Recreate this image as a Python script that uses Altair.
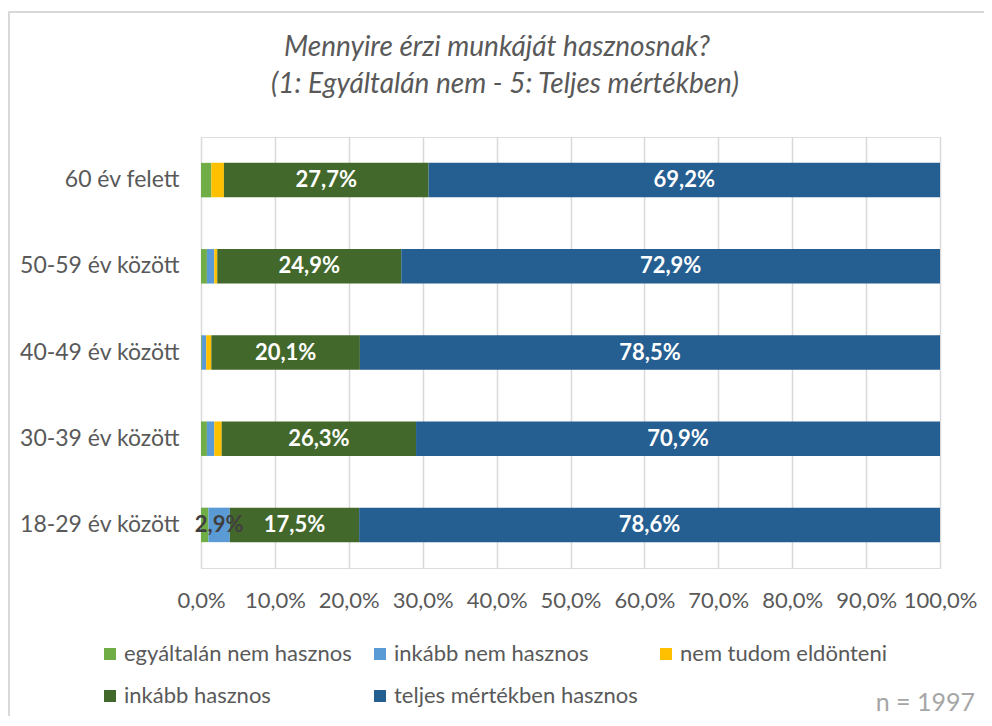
import altair as alt
import pandas as pd

categories = ["60 év felett", "50-59 év között", "40-49 év között", "30-39 év között", "18-29 év között"]
series = ["egyáltalán nem hasznos", "inkább nem hasznos", "nem tudom eldönteni", "inkább hasznos", "teljes mértékben hasznos"]
colors = ["#70ad47", "#5b9bd5", "#ffc000", "#43682b", "#255e91"]

egyaltalan = [1.4, 0.8, 0.1, 0.8, 1.0]
inkabb_nem = [0.0, 1.0, 0.6, 1.0, 2.9]
nem_tudom = [1.7, 0.4, 0.7, 1.0, 0.0]
inkabb = [27.7, 24.9, 20.1, 26.3, 17.5]
teljes = [69.2, 72.9, 78.5, 70.9, 78.6]

x_ticks = [0, 10, 20, 30, 40, 50, 60, 70, 80, 90, 100]

title_lines = ["Mennyire érzi munkáját hasznosnak?", "(1: Egyáltalán nem - 5: Teljes mértékben)"]
note = "n = 1997"

FONT = "Lato, 'Open Sans', sans-serif"
GRAY = "#595959"

rows = []
for s_i, (name, vals) in enumerate(zip(series, [egyaltalan, inkabb_nem, nem_tudom, inkabb, teljes])):
    for c, v in zip(categories, vals):
        label = (f"{v:.1f}%".replace(".", ",")) if v >= 2.5 else ""
        rows.append({"cat": c, "series": name, "ord": s_i, "value": v, "label": label,
                     "dark": 1 if s_i >= 3 else 0})
df = pd.DataFrame(rows)

W, H = 739, 431

y_enc = alt.Y("cat:N", sort=categories, title=None,
              scale=alt.Scale(paddingInner=0.6, paddingOuter=0.3),
              axis=alt.Axis(labelFont=FONT, labelFontSize=23, labelColor=GRAY,
                            labelPadding=22, ticks=False, domain=False, grid=False))

x_enc = alt.X("value:Q", stack="zero", title=None,
              scale=alt.Scale(domain=[0, 100], nice=False),
              axis=alt.Axis(values=x_ticks, labelExpr="replace(format(datum.value/100, '.1%'), '.', ',')",
                            labelFont=FONT, labelFontSize=22, labelColor=GRAY, labelPadding=22,
                            labelOverlap=False, labelFlush=False,
                            ticks=False, domain=False, grid=True, gridColor="#d9d9d9", gridWidth=1.5))

bars = alt.Chart(df).mark_bar().encode(
    y=y_enc,
    x=x_enc,
    color=alt.Color("series:N", scale=alt.Scale(domain=series, range=colors),
                    legend=alt.Legend(title=None, orient="none", legendX=-102, legendY=506,
                                      columns=3, direction="horizontal",
                                      symbolType="square", symbolSize=144, symbolStrokeWidth=0,
                                      labelFont=FONT, labelFontSize=22, labelColor=GRAY,
                                      labelOffset=3, columnPadding=17, rowPadding=20, labelLimit=400)),
    order=alt.Order("ord:Q"),
)

labels = alt.Chart(df).transform_stack(
    stack="value", groupby=["cat"], as_=["v0", "v1"], sort=[alt.SortField("ord")]
).transform_calculate(
    mid="(datum.v0 + datum.v1) / 2"
).mark_text(font=FONT, fontSize=22, fontWeight="bold").encode(
    y=alt.Y("cat:N", sort=categories),
    x=alt.X("mid:Q"),
    text="label:N",
    color=alt.condition("datum.dark == 1", alt.value("white"), alt.value("#404040")),
)

one = pd.DataFrame({"a": [0]})
border = alt.Chart(one).mark_rect(fill=None, stroke="#d9d9d9", strokeWidth=2).encode(
    x=alt.value(-192), x2=alt.value(W + 60), y=alt.value(-125), y2=alt.value(H + 200)
)
title1 = alt.Chart(one).mark_text(font=FONT, fontSize=28, fontStyle="italic", color=GRAY,
                                  align="center", baseline="middle").encode(
    x=alt.value(296), y=alt.value(-89), text=alt.value(title_lines[0])
)
title2 = alt.Chart(one).mark_text(font=FONT, fontSize=28, fontStyle="italic", color=GRAY,
                                  align="center", baseline="middle").encode(
    x=alt.value(304), y=alt.value(-52), text=alt.value(title_lines[1])
)
ntext = alt.Chart(one).mark_text(font=FONT, fontSize=25, color="#a6a6a6", align="right",
                                 baseline="middle").encode(
    x=alt.value(774), y=alt.value(566), text=alt.value(note)
)

chart = alt.layer(border, title1, title2, bars, labels, ntext).properties(
    width=W, height=H,
    autosize=alt.AutoSizeParams(type="none"),
    padding={"left": 193, "top": 129, "right": 44, "bottom": 148},
).configure_view(stroke=None).configure(background="white")

chart.save("out.html", embed_options={"renderer": "svg", "actions": False})
